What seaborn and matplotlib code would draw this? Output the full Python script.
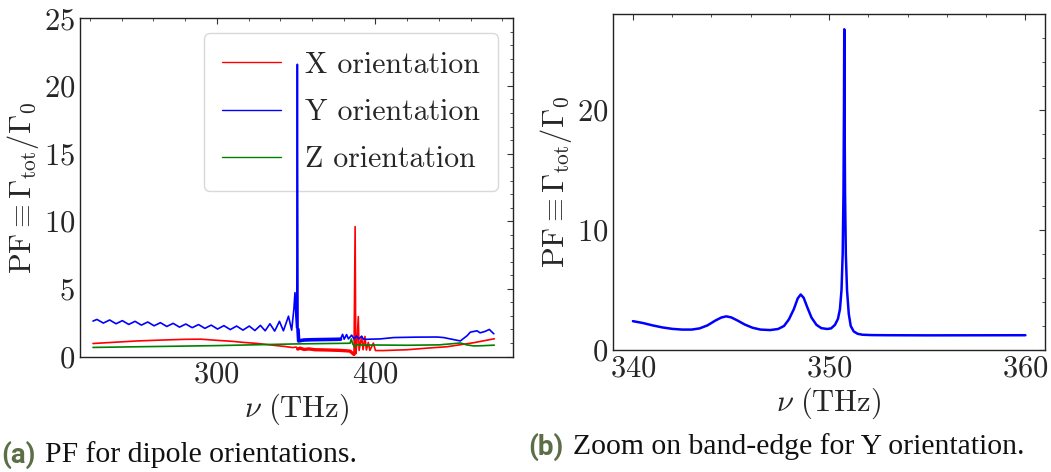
import numpy as np
import pandas as pd
import matplotlib
matplotlib.use("Agg")
import matplotlib.pyplot as plt
from matplotlib.ticker import MultipleLocator, AutoMinorLocator
import seaborn as sns

# ---------------- data ----------------
# Left panel: PF vs frequency for three dipole orientations
x_freq = [222, 224.5, 228.5, 232.5, 236.5, 240.5, 244.5, 248.5, 252.5, 256.5,
          260.5, 264.5, 268.5, 272.5, 276.5, 280.5, 284.5, 288.5, 292.5, 296.5,
          300.5, 304.5, 308.5, 312.5, 316.5, 320.5, 324, 327.5, 330.5, 333.5,
          336.5, 339.5, 342, 345.2, 347.2, 348.6, 349.3, 349.9, 350.4, 350.8,
          351.2, 351.6, 355, 360, 365, 370, 375, 378.0, 379.3, 380.3, 381.8,
          383.0, 385.0, 386.5, 388.1, 389.5, 391.3, 392.5, 394.5, 396.7, 403,
          411.5, 425, 438.9, 443, 448, 453.5, 457.8, 459.8, 464, 466, 469,
          471.8, 473.5, 474.6]
x_pf = [2.62, 2.74, 2.47, 2.70, 2.42, 2.65, 2.37, 2.60, 2.32, 2.55,
        2.27, 2.50, 2.22, 2.45, 2.17, 2.40, 2.13, 2.36, 2.08, 2.32,
        2.03, 2.28, 1.99, 2.25, 1.95, 2.25, 1.92, 2.30, 1.90, 2.42,
        1.88, 2.60, 1.90, 2.98, 1.95, 3.50, 4.72, 3.00, 2.10, 21.6,
        2.00, 1.15, 1.22, 1.24, 1.25, 1.26, 1.27, 1.28, 1.64, 1.28, 1.62,
        1.30, 1.58, 1.30, 1.52, 1.30, 1.50, 1.28, 1.27, 1.28, 1.30,
        1.40, 1.43, 1.44, 1.40, 1.28, 1.15, 1.54, 1.80, 1.90, 1.75, 1.85,
        2.00, 1.80, 1.68]

x_freq_red = [222, 235, 250, 264, 280, 290, 302, 310, 317, 325, 332, 338, 343,
              348, 350, 351, 352.5, 355, 358, 362, 370, 378, 384, 386.5, 387.2,
              387.6, 388.3, 389.2, 389.7, 391.3, 392.2, 393.4, 394.3, 395.5,
              396.5, 398.7, 400, 405, 420, 432.7, 445, 453.5, 462, 470, 474.9]
red_pf = [0.96, 1.05, 1.15, 1.21, 1.27, 1.28, 1.18, 1.12, 1.04, 0.97, 0.88,
          0.80, 0.74, 0.66, 0.70, 0.55, 0.62, 0.52, 0.56, 0.50, 0.48, 0.45,
          0.40, 0.15, 9.60, 0.20, 0.90, 2.95, 0.45, 1.48, 0.50, 1.48, 0.48,
          1.04, 0.45, 0.99, 0.44, 0.44, 0.50, 0.62, 0.72, 0.87, 1.02, 1.20,
          1.31]

x_freq_green = [222, 250, 280, 302, 330, 350, 370, 384.0, 384.8, 385.6, 386.8,
                388.5, 392, 400, 420, 440, 448, 453.5, 457.5, 462, 468, 474.9]
green_pf = [0.67, 0.72, 0.77, 0.81, 0.88, 0.93, 0.96, 0.98, 1.30, 0.95, 0.72,
            0.88, 0.84, 0.85, 0.83, 0.86, 0.94, 1.00, 0.86, 0.78, 0.80, 0.84]

# Right panel: zoom on band edge, Y orientation
zoom_freq = [340.0, 340.5, 341.0, 341.5, 342.0, 342.5, 343.0, 343.4, 343.8,
             344.2, 344.5, 344.75, 345.0, 345.3, 345.7, 346.1, 346.5, 347.0,
             347.4, 347.7, 347.95, 348.2, 348.4, 348.55, 348.7, 348.9, 349.1,
             349.35, 349.6, 349.9, 350.1, 350.3, 350.45, 350.55, 350.63,
             350.69, 350.73, 350.755, 350.77, 350.785, 350.81, 350.85, 350.91,
             351.0, 351.1, 351.25, 351.45, 351.7, 352.2, 353.0, 355.0, 360.0]
zoom_pf = [2.40, 2.25, 2.05, 1.88, 1.76, 1.70, 1.70, 1.80, 2.05,
           2.45, 2.70, 2.80, 2.72, 2.48, 2.12, 1.85, 1.70, 1.66,
           1.75, 2.00, 2.55, 3.40, 4.30, 4.62, 4.35, 3.50, 2.70,
           2.10, 1.82, 1.75, 1.80, 2.10, 2.60, 3.40, 5.00,
           8.00, 13.0, 20.0, 26.7, 20.0, 13.0, 8.00, 5.00,
           3.00, 2.00, 1.55, 1.35, 1.27, 1.24, 1.23, 1.22, 1.23]

legend_labels = ["X orientation", "Y orientation", "Z orientation"]
left_yticks = [0, 5, 10, 15, 20, 25]
right_xticks = [340, 350, 360]
right_yticks = [0, 10, 20]
caption_a = ("(a)", "PF for dipole orientations.")
caption_b = ("(b)", "Zoom on band-edge for Y orientation.")

# ---------------- style ----------------
sns.set_style("white")
plt.rcParams["font.family"] = "serif"
plt.rcParams["font.serif"] = ["cmr10"]
plt.rcParams["mathtext.fontset"] = "cm"
plt.rcParams["axes.formatter.use_mathtext"] = True
plt.rcParams["axes.unicode_minus"] = False

fig = plt.figure(figsize=(10.51, 4.72), dpi=100)
W, H = 1051, 472
axL = fig.add_axes([80 / W, (H - 356.5) / H, 433 / W, 338.2 / H])
axR = fig.add_axes([613.3 / W, (H - 350) / H, 431.7 / W, 336 / H])

lw_left = 1.2
sns.lineplot(x=x_freq_red, y=red_pf, ax=axL, color="red", lw=lw_left,
             label=legend_labels[0], sort=False, estimator=None, zorder=6)
sns.lineplot(x=x_freq, y=x_pf, ax=axL, color="blue", lw=lw_left,
             label=legend_labels[1], sort=False, estimator=None, zorder=6)
sns.lineplot(x=x_freq_green, y=green_pf, ax=axL, color="green", lw=lw_left,
             label=legend_labels[2], sort=False, estimator=None, zorder=6)
# densely-sampled stretches just past the band edges look thicker
sns.lineplot(x=x_freq[40:48], y=x_pf[40:48], ax=axL, color="blue", lw=2.6,
             sort=False, estimator=None, zorder=6)
sns.lineplot(x=x_freq_red[15:24], y=red_pf[15:24], ax=axL, color="red",
             lw=2.4, sort=False, estimator=None, zorder=6)

sns.lineplot(x=zoom_freq, y=zoom_pf, ax=axR, color="blue", lw=1.8,
             sort=False, estimator=None)

ylab = r"$\mathrm{PF} \equiv \Gamma_{\mathrm{tot}}/\Gamma_0$"
xlab = r"$\nu\ (\mathrm{THz})$"
FS = 22

for ax in (axL, axR):
    ax.set_xlabel(xlab, fontsize=FS, labelpad=2)
    ax.set_ylabel(ylab, fontsize=FS, labelpad=2)
    ax.tick_params(which="both", direction="in", top=True, right=True,
                   labelsize=FS, color="#333333")
    ax.tick_params(which="major", length=4, width=0.8)
    ax.tick_params(which="minor", length=2.5, width=0.6)
    for s in ax.spines.values():
        s.set_color("#222222")
        s.set_linewidth(1.0)

axL.set_xlim(213.8, 486.7)
axL.set_ylim(0, 25)
axL.set_yticks(left_yticks)
axL.xaxis.set_major_locator(MultipleLocator(100))
axL.xaxis.set_minor_locator(AutoMinorLocator(5))
axL.yaxis.set_minor_locator(AutoMinorLocator(5))

axR.set_xlim(339.0, 361.0)
axR.set_ylim(0, 27.97)
axR.set_xticks(right_xticks)
axR.set_yticks(right_yticks)
axR.xaxis.set_minor_locator(AutoMinorLocator(5))
axR.yaxis.set_minor_locator(AutoMinorLocator(5))

handles, labels = axL.get_legend_handles_labels()
leg = axL.legend(handles[:3], labels[:3], loc="upper right", fontsize=21.5,
                 frameon=True, fancybox=True, edgecolor="0.85",
                 framealpha=1.0, borderaxespad=0.5, borderpad=0.6,
                 labelspacing=0.67, handlelength=2.0)
leg.set_zorder(3)
for h in leg.get_lines():
    h.set_linewidth(1.0)

# ---------------- captions ----------------
green_cap = "#5b6f47"
cap_font = "Liberation Serif"
fig.canvas.draw()
renderer = fig.canvas.get_renderer()

def caption(x_px, y_px, tag, body):
    t = fig.text(x_px / W, 1 - y_px / H, tag, color=green_cap, fontsize=20,
                 fontweight="bold", family="Roboto", va="center", ha="left")
    bb = t.get_window_extent(renderer)
    fig.text((bb.x1 + 10) / W, 1 - y_px / H, body, color="#111111",
             fontsize=21.3, family=cap_font, va="center", ha="left")

caption(1, 455, *caption_a)
caption(528, 447, *caption_b)

fig.savefig("out.png", dpi=100)
